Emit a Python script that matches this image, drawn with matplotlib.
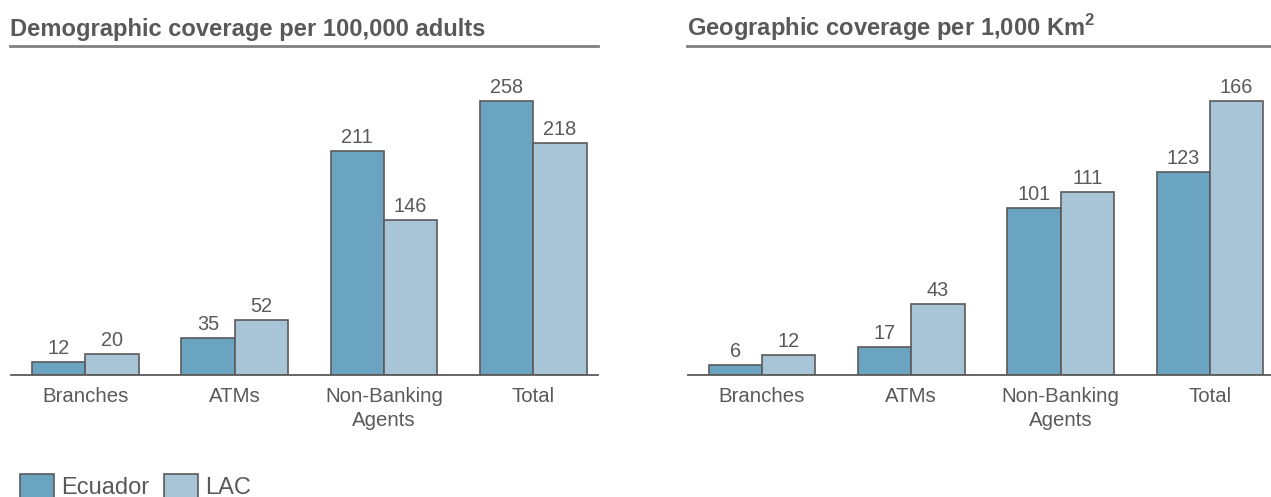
import matplotlib
matplotlib.use("Agg")
import matplotlib.pyplot as plt
import numpy as np
from matplotlib.lines import Line2D
from matplotlib.patches import Patch

plt.rcParams['font.family'] = ['Liberation Sans', 'DejaVu Sans']

categories = ["Branches", "ATMs", "Non-Banking\nAgents", "Total"]
series_names = ["Ecuador", "LAC"]
demo_ecuador = [12, 35, 211, 258]
demo_lac = [20, 52, 146, 218]
geo_ecuador = [6, 17, 101, 123]
geo_lac = [12, 43, 111, 166]
titles = ["Demographic coverage per 100,000 adults", "Geographic coverage per 1,000 Km$^{\\mathbf{2}}$"]

C_EC = "#6aa4c1"
C_LAC = "#a8c5d8"
EDGE = "#5a5a5a"
TXT = "#595959"

W, H = 1271, 497
fig = plt.figure(figsize=(W / 100, H / 100), dpi=100)
plt.rcParams['mathtext.fontset'] = 'custom'
plt.rcParams['mathtext.bf'] = 'Liberation Sans:bold'
plt.rcParams['mathtext.rm'] = 'Liberation Sans'

def fx(px):
    return px / W

def fy(py):
    return 1 - py / H

panels = [
    dict(left=11, right=598, ec=demo_ecuador, lac=demo_lac, title=titles[0],
         xlim=(-0.497, 3.433), ppu=274 / 258),
    dict(left=688, right=1271, ec=geo_ecuador, lac=geo_lac, title=titles[1],
         xlim=(-0.496, 3.41), ppu=274 / 166),
]

top_px, base_px = 60, 375
bw = 0.357
for p in panels:
    ax = fig.add_axes([fx(p['left']), fy(base_px), fx(p['right'] - p['left']),
                       (base_px - top_px) / H])
    x = np.arange(len(categories))
    b1 = ax.bar(x - bw / 2, p['ec'], bw, color=C_EC, edgecolor=EDGE, linewidth=1.2)
    b2 = ax.bar(x + bw / 2, p['lac'], bw, color=C_LAC, edgecolor=EDGE, linewidth=1.2)
    for bars, vals in ((b1, p['ec']), (b2, p['lac'])):
        for b, v in zip(bars, vals):
            ax.annotate(str(v), (b.get_x() + b.get_width() / 2, b.get_height()),
                        xytext=(0, 3), textcoords="offset points", ha="center",
                        va="bottom", fontsize=14.3, color=TXT)
    ax.set_xlim(*p['xlim'])
    ax.set_ylim(0, (base_px - top_px) / p['ppu'])
    ax.set_xticks(x)
    ax.set_xticklabels(categories, fontsize=14.7, color=TXT, linespacing=1.35)
    ax.tick_params(axis='x', length=0, pad=8.5)
    ax.set_yticks([])
    for s in ("left", "right", "top"):
        ax.spines[s].set_visible(False)
    ax.spines["bottom"].set_color(EDGE)
    ax.spines["bottom"].set_linewidth(1.3)
    ax.patch.set_alpha(0)
    # title and underline
    fig.text(fx(p['left'] - 1), fy(36), p['title'], fontsize=17.1, fontweight='bold',
             color=TXT, ha='left', va='baseline')
    fig.add_artist(Line2D([fx(p['left'] - 1), fx(min(p['right'], 1270))], [fy(46), fy(46)],
                          color="#808080", linewidth=2))

handles = [Patch(facecolor=C_EC, edgecolor=EDGE, linewidth=1.2),
           Patch(facecolor=C_LAC, edgecolor=EDGE, linewidth=1.2)]
leg = fig.legend(handles, series_names, loc='lower left', bbox_to_anchor=(fx(20), fy(499)),
                 bbox_transform=fig.transFigure, ncol=2, frameon=False, fontsize=17,
                 handlelength=1.45, handleheight=1.15, handletextpad=0.3, columnspacing=0.6,
                 borderaxespad=0, borderpad=0)
for t in leg.get_texts():
    t.set_color(TXT)

fig.savefig("out.png", dpi=100)
